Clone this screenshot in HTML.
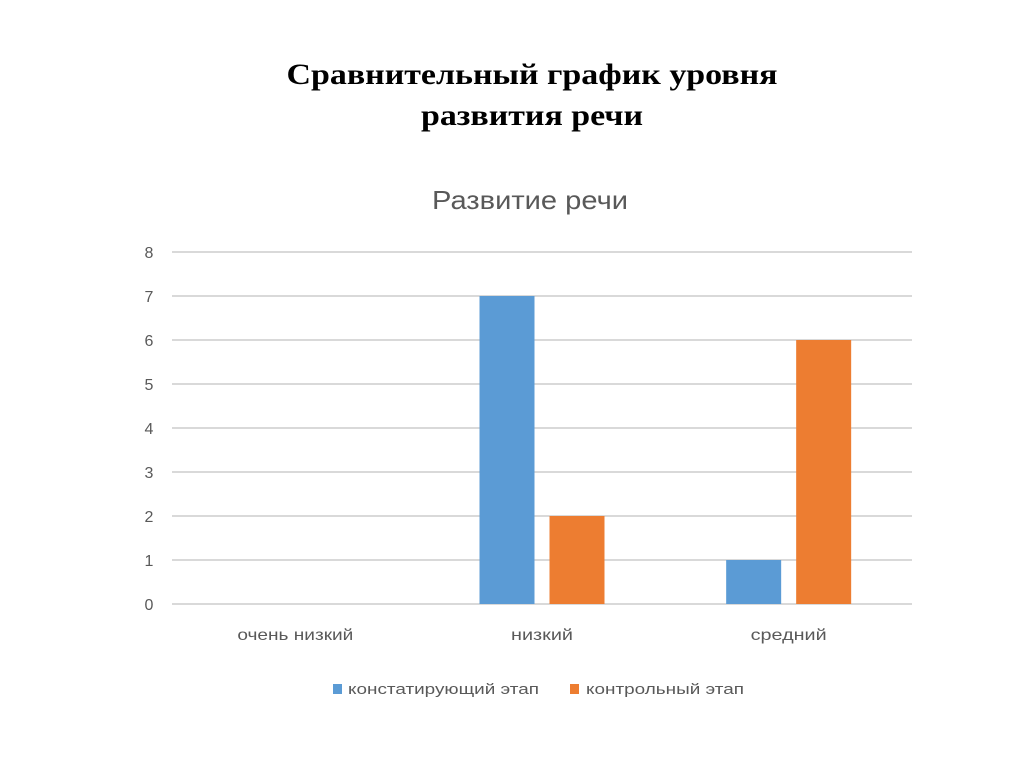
<!DOCTYPE html>
<html><head><meta charset="utf-8"><style>
html,body{margin:0;padding:0;background:#fff;width:1024px;height:767px;overflow:hidden}
</style></head><body>
<svg id="c" width="1024" height="767" xmlns="http://www.w3.org/2000/svg">
<text x="532" y="84" text-anchor="middle" font-family="Liberation Serif, serif" font-weight="bold" font-size="30" textLength="491" lengthAdjust="spacingAndGlyphs">Сравнительный график уровня</text>
<text x="532" y="125" text-anchor="middle" font-family="Liberation Serif, serif" font-weight="bold" font-size="30" textLength="222" lengthAdjust="spacingAndGlyphs">развития речи</text>
<text x="530" y="209" text-anchor="middle" font-family="Liberation Sans, sans-serif" font-size="26" fill="#595959" textLength="196" lengthAdjust="spacingAndGlyphs">Развитие речи</text>
<g id="grid"></g><g id="bars"></g><g id="labels"></g>
<g>
<rect x="333" y="684" width="9" height="10" fill="#5b9bd5"/>
<text x="348" y="694" font-family="Liberation Sans, sans-serif" font-size="15" fill="#595959" textLength="191" lengthAdjust="spacingAndGlyphs">констатирующий этап</text>
<rect x="570" y="684" width="9" height="10" fill="#ed7d31"/>
<text x="586" y="694" font-family="Liberation Sans, sans-serif" font-size="15" fill="#595959" textLength="158" lengthAdjust="spacingAndGlyphs">контрольный этап</text>
</g>
</svg>
<script>
const categories=["очень низкий","низкий","средний"];
const seriesA=[0,7,1];
const seriesB=[0,2,6];
const yTicks=[0,1,2,3,4,5,6,7,8];
const labelWidths=[116,62,76];
const NS="http://www.w3.org/2000/svg";
const x0=172,x1=912,y0=604,pxU=44;
const y=v=>y0-v*pxU;
const bw=(x1-x0)/categories.length;
const cx=i=>x0+bw*(i+0.5);
function mk(t,a,p){const e=document.createElementNS(NS,t);for(const k in a)e.setAttribute(k,a[k]);p.appendChild(e);return e;}
const g=document.getElementById('grid'),b=document.getElementById('bars'),l=document.getElementById('labels');
yTicks.forEach(v=>{
 const ln=mk('line',{x1:x0,x2:x1,y1:y(v),y2:y(v),stroke:'#d9d9d9','stroke-width':2},g);
 
 
 const t=mk('text',{x:149,y:y(v)+6,'text-anchor':'middle','font-family':'Liberation Sans, sans-serif','font-size':16,fill:'#595959'},g);
 t.textContent=v;
 
 
});
const barW=55,gap=15;
categories.forEach((c,i)=>{
 if(seriesA[i]>0){const r=mk('rect',{x:cx(i)-gap/2-barW,y:y(seriesA[i]),width:barW,height:seriesA[i]*pxU,fill:'#5b9bd5'},b);
 
 }
 if(seriesB[i]>0){const r=mk('rect',{x:cx(i)+gap/2,y:y(seriesB[i]),width:barW,height:seriesB[i]*pxU,fill:'#ed7d31'},b);
 
 }
 const t=mk('text',{x:cx(i),y:640,'text-anchor':'middle','font-family':'Liberation Sans, sans-serif','font-size':16,fill:'#595959',textLength:labelWidths[i],lengthAdjust:'spacingAndGlyphs'},l);
 t.textContent=c;
 
 
});
</script>
</body></html>
